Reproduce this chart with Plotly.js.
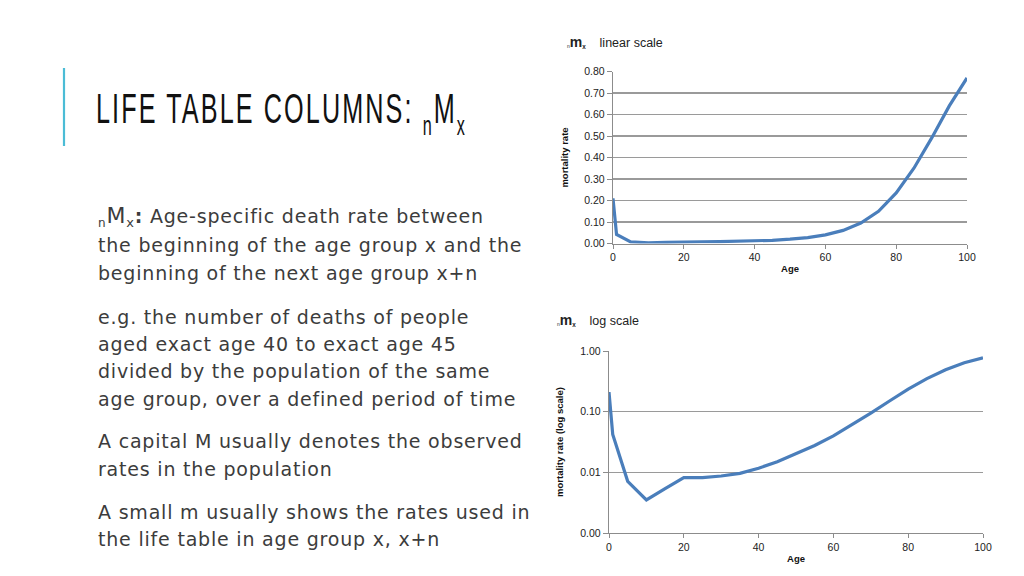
<!DOCTYPE html>
<html>
<head>
<meta charset="utf-8">
<script src="https://cdn.plot.ly/plotly-3.0.1.min.js"></script>
<style>
html,body{margin:0;padding:0;background:#fff;}
#wrap{position:relative;width:1024px;height:576px;overflow:hidden;}
#chart{position:absolute;left:0;top:0;width:1024px;height:576px;}
#slide{position:absolute;left:0;top:0;width:1024px;height:576px;pointer-events:none;}
</style>
</head>
<body>
<div id="wrap">
<div id="chart"></div>
<svg id="slide" width="1024" height="576" xmlns="http://www.w3.org/2000/svg"></svg>
</div>
<script>
// Data
const ages = [0, 1, 5, 10, 15, 20, 25, 30, 35, 40, 45, 50, 55, 60, 65, 70, 75, 80, 85, 90, 95, 100];
const mortalityRate = [0.21, 0.042, 0.0071, 0.0035, 0.0054, 0.0082, 0.0082, 0.0087, 0.0096, 0.0117, 0.0149, 0.020, 0.0277, 0.040, 0.061, 0.095, 0.150, 0.235, 0.35, 0.49, 0.64, 0.77];
const linearTicks = [0, 0.1, 0.2, 0.3, 0.4, 0.5, 0.6, 0.7, 0.8];
const logTickVals = [0.001, 0.01, 0.1, 1];
const logTickText = ["0.00", "0.01", "0.10", "1.00"];
const ageTicks = [0, 20, 40, 60, 80, 100];

const bodyLines = [
  "the beginning of the age group x and the",
  "beginning of the next age group x+n",
  "e.g. the number of deaths of people",
  "aged exact age 40 to exact age 45",
  "divided by the population of the same",
  "age group, over a defined period of time",
  "A capital M usually denotes the observed",
  "rates in the population",
  "A small m usually shows the rates used in",
  "the life table in age group x, x+n"
];
const firstLineText = " Age-specific death rate between";
const bodyBaselines = [252, 280, 324, 351, 378, 406, 448, 476, 519, 546];

const W = 1024, H = 576;
const px = v => v / W;
const py = v => 1 - v / H;

const lineStyle = {color: '#4a7ebb', width: 3.2};
const axisFont = {family: 'Liberation Sans, Arial, sans-serif', size: 10.5, color: '#222'};
const titleFont = {family: 'Liberation Sans, Arial, sans-serif', size: 9.5, color: '#111', weight: 'bold'};

const traces = [
  {x: ages, y: mortalityRate, type: 'scatter', mode: 'lines', line: lineStyle, xaxis: 'x', yaxis: 'y', hoverinfo: 'skip', showlegend: false},
  {x: ages, y: mortalityRate, type: 'scatter', mode: 'lines', line: lineStyle, xaxis: 'x2', yaxis: 'y2', hoverinfo: 'skip', showlegend: false}
];

const commonX = {
  range: [0, 100], tickvals: ageTicks, showgrid: false, zeroline: false,
  showline: true, linecolor: '#8c8c8c', linewidth: 1.3,
  ticks: 'outside', ticklen: 4, tickcolor: '#8c8c8c', tickfont: axisFont,
  fixedrange: true
};
const commonY = {
  showgrid: true, gridcolor: '#9a9a9a', gridwidth: 1.3, zeroline: false,
  showline: true, linecolor: '#8c8c8c', linewidth: 1.3,
  ticks: 'outside', ticklen: 5, tickcolor: '#8c8c8c', tickfont: axisFont,
  fixedrange: true
};

const chartTitleFont = {family: 'Liberation Sans, Arial, sans-serif', size: 12.5, color: '#222'};
const annotations = [
  {xref: 'paper', yref: 'paper', x: px(565), y: py(42), xanchor: 'left', yanchor: 'middle',
   text: "<span style='font-size:7px'><sub>n</sub></span><b><span style='font-size:14px'>m</span><span style='font-size:9px'><sub>x</sub></span></b>    linear scale",
   showarrow: false, font: chartTitleFont},
  {xref: 'paper', yref: 'paper', x: px(555), y: py(320), xanchor: 'left', yanchor: 'middle',
   text: "<span style='font-size:7px'><sub>n</sub></span><b><span style='font-size:14px'>m</span><span style='font-size:9px'><sub>x</sub></span></b>    log scale",
   showarrow: false, font: chartTitleFont}
];

const layout = {
  width: W, height: H,
  margin: {l: 0, r: 0, t: 0, b: 0},
  paper_bgcolor: '#fff', plot_bgcolor: '#fff',
  showlegend: false,
  xaxis: Object.assign({}, commonX, {
    domain: [px(613), px(967)], anchor: 'y',
    title: {text: 'Age', font: titleFont, standoff: 3}
  }),
  yaxis: Object.assign({}, commonY, {
    domain: [py(243.5), py(71.5)], anchor: 'x',
    range: [0, 0.8], tickvals: linearTicks, tickformat: '.2f',
    title: {text: 'mortality rate', font: titleFont, standoff: 13}
  }),
  xaxis2: Object.assign({}, commonX, {
    domain: [px(609), px(983)], anchor: 'y2',
    title: {text: 'Age', font: titleFont, standoff: 3}
  }),
  yaxis2: Object.assign({}, commonY, {
    domain: [py(533), py(351)], anchor: 'x2',
    type: 'log', range: [-3, 0], tickvals: logTickVals, ticktext: logTickText,
    title: {text: 'mortality rate (log scale)', font: titleFont, standoff: 14}
  }),
  shapes: [
    {type: 'line', xref: 'paper', yref: 'paper', x0: px(64), x1: px(64), y0: py(68), y1: py(146),
     line: {color: '#4bbcd6', width: 2.2}}
  ],
  annotations: annotations
};

Plotly.newPlot('chart', traces, layout, {staticPlot: true, displayModeBar: false});

// Slide text (title and body) as real SVG text
const NS = 'http://www.w3.org/2000/svg';
const svg = document.getElementById('slide');
function el(tag, attrs, text) {
  const e = document.createElementNS(NS, tag);
  for (const k in attrs) e.setAttribute(k, attrs[k]);
  if (text !== undefined) e.textContent = text;
  return e;
}
// Title, horizontally condensed
const tg = el('g', {transform: 'translate(96,122.5) scale(0.6,1)'});
const tt = el('text', {x: 0, y: 0, fill: '#111', 'font-family': 'Liberation Sans, Arial, sans-serif', 'font-size': 42, 'letter-spacing': 3.5});
tt.appendChild(el('tspan', {}, 'LIFE TABLE COLUMNS: '));
tt.appendChild(el('tspan', {'font-size': 27, dy: 12}, 'n'));
tt.appendChild(el('tspan', {'font-size': 42, dy: -12}, 'M'));
tt.appendChild(el('tspan', {'font-size': 27, dy: 12}, 'x'));
tg.appendChild(tt);
svg.appendChild(tg);

const bodyAttrs = {fill: '#3c3c3c', 'font-family': 'DejaVu Sans, sans-serif', 'font-size': 19, 'letter-spacing': 0.8};
// first line with nMx
const t1 = el('text', Object.assign({x: 98, y: 223}, bodyAttrs));
t1.appendChild(el('tspan', {'font-size': 12, dy: 4}, 'n'));
t1.appendChild(el('tspan', {'font-size': 22, dy: -4}, 'M'));
t1.appendChild(el('tspan', {'font-size': 13, dy: 4}, 'x'));
t1.appendChild(el('tspan', {'font-weight': 'bold', dy: -4}, ':'));
t1.appendChild(el('tspan', {}, firstLineText));
svg.appendChild(t1);
bodyLines.forEach((t, i) => {
  svg.appendChild(el('text', Object.assign({x: 98, y: bodyBaselines[i]}, bodyAttrs), t));
});
</script>
</body>
</html>
